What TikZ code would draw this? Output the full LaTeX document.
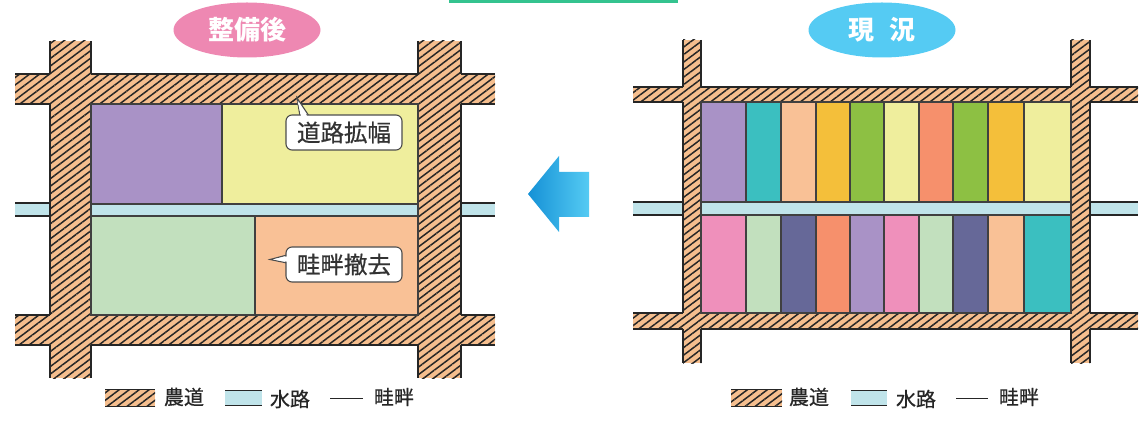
\documentclass[tikz,border=0pt]{standalone}
\usepackage{fontspec}
\newfontfamily\jp{Noto Sans CJK JP}
\newfontfamily\jpm[FakeBold=0.6]{Noto Sans CJK JP}
\usetikzlibrary{patterns.meta,shapes.geometric}
\definecolor{roadc}{HTML}{F5BE8E}
\definecolor{waterc}{HTML}{C0E4EA}
\definecolor{cpurple}{HTML}{A992C6}
\definecolor{cteal}{HTML}{3BBFC0}
\definecolor{cpeach}{HTML}{F9C196}
\definecolor{cgold}{HTML}{F4BF3A}
\definecolor{cgreen}{HTML}{8DC043}
\definecolor{cyellow}{HTML}{EFEE9D}
\definecolor{csalmon}{HTML}{F6906C}
\definecolor{cpink}{HTML}{EF90BB}
\definecolor{clgreen}{HTML}{C2E0BE}
\definecolor{cnavy}{HTML}{666898}
\definecolor{titlepink}{HTML}{EE88B2}
\definecolor{titleblue}{HTML}{55CBF3}
\definecolor{arrowdark}{HTML}{1591D6}
\definecolor{topgreen}{HTML}{34C38F}
\tikzset{
  roadfill/.style={fill=roadc, postaction={pattern={Lines[angle=37,distance=6pt,line width=1.5pt]}, pattern color=black!85}},
  edge/.style={line width=1.3pt, draw=black!85},
  field/.style={draw=black!75, line width=1.2pt},
  waterbar/.style={fill=waterc},
  calloutbox/.style={draw=black!70, fill=white, line width=1.1pt, rounded corners=6pt, minimum width=116pt, minimum height=35pt, inner sep=0pt, font=\jpm\fontsize{23.5}{23.5}\selectfont, text=black!80},
  tail/.style={draw=black!70, fill=white, line width=1.1pt, line join=miter},
  title/.style={ellipse, minimum width=147pt, minimum height=55pt, inner sep=0pt, text=white, font=\jp\bfseries\fontsize{26}{26}\selectfont},
  legtext/.style={font=\jpm\fontsize{20}{20}\selectfont, text=black!85, inner sep=0pt},
}
\begin{document}
\begin{tikzpicture}[x=1pt,y=-1pt]
\useasboundingbox (0,0) rectangle (1145,427);
% top green line
\fill[topgreen] (449,0) rectangle (678,3);

% ================= LEFT (after) =================
% water channel
\fill[waterbar] (15,203) rectangle (495,216);
\draw[edge] (15,203) -- (495,203) (15,216) -- (495,216);
% roads
\path[roadfill] (15,74) rectangle (495,104);
\path[roadfill] (15,315) rectangle (495,345);
\path[roadfill] (50,41) rectangle (91,378);
\path[roadfill] (418,41) rectangle (461,378);
\draw[edge] (15,74) -- (50,74) (91,74) -- (418,74) (461,74) -- (495,74);
\draw[edge] (15,104) -- (50,104) (461,104) -- (495,104);
\draw[edge] (15,315) -- (50,315) (461,315) -- (495,315);
\draw[edge] (15,345) -- (50,345) (91,345) -- (418,345) (461,345) -- (495,345);
\draw[edge] (50,41) -- (50,74) (50,104) -- (50,315) (50,345) -- (50,378);
\draw[edge] (461,41) -- (461,74) (461,104) -- (461,315) (461,345) -- (461,378);
\draw[edge] (91,41) -- (91,74) (91,345) -- (91,378);
\draw[edge] (418,41) -- (418,74) (418,345) -- (418,378);
% fields
\filldraw[field, fill=cpurple] (91,104) rectangle (222,204);
\filldraw[field, fill=cyellow] (222,104) rectangle (418,204);
\filldraw[field, fill=waterc] (91,204) rectangle (418,216);
\filldraw[field, fill=clgreen] (91,216) rectangle (255,315);
\filldraw[field, fill=cpeach] (255,216) rectangle (418,315);
% callouts
\draw[tail] (300,116) -- (297,98) -- (309,116);
\node[calloutbox] (c1) at (344,132.5) {道路拡幅};
\fill[white] (301.2,117) -- (297.6,101) -- (307.6,117) -- cycle;
\draw[tail] (287,255) -- (270,259.5) -- (287,263);
\node[calloutbox] (c2) at (344,264.5) {畦畔撤去};
\fill[white] (288,256.2) -- (273,259.5) -- (288,261.8) -- cycle;
% title
\node[title, fill=titlepink] (t1) at (247,30) {整備後};

% ================= ARROW =================
\shade[left color=arrowdark, right color=titleblue]
  (528,194) -- (559,156) -- (559,172) -- (589,172) -- (589,217) -- (559,217) -- (559,232) -- cycle;

% ================= RIGHT (current) =================
\fill[waterbar] (633,202) rectangle (1138,215);
\draw[edge] (633,202) -- (1138,202) (633,215) -- (1138,215);
\path[roadfill] (633,87) rectangle (1138,102);
\path[roadfill] (633,313) rectangle (1138,329);
\path[roadfill] (683,40) rectangle (701,363);
\path[roadfill] (1071,40) rectangle (1090,363);
\draw[edge] (633,87) -- (683,87) (701,87) -- (1071,87) (1090,87) -- (1138,87);
\draw[edge] (633,102) -- (683,102) (1090,102) -- (1138,102);
\draw[edge] (633,313) -- (683,313) (1090,313) -- (1138,313);
\draw[edge] (633,329) -- (683,329) (701,329) -- (1071,329) (1090,329) -- (1138,329);
\draw[edge] (683,40) -- (683,87) (683,102) -- (683,313) (683,329) -- (683,363);
\draw[edge] (1090,40) -- (1090,87) (1090,102) -- (1090,313) (1090,329) -- (1090,363);
\draw[edge] (701,40) -- (701,87) (701,329) -- (701,363);
\draw[edge] (1071,40) -- (1071,87) (1071,329) -- (1071,363);
% fields top row
\filldraw[field, fill=cpurple] (701,102) rectangle (746,202);
\filldraw[field, fill=cteal]   (746,102) rectangle (781,202);
\filldraw[field, fill=cpeach]  (781,102) rectangle (816,202);
\filldraw[field, fill=cgold]   (816,102) rectangle (850,202);
\filldraw[field, fill=cgreen]  (850,102) rectangle (884,202);
\filldraw[field, fill=cyellow] (884,102) rectangle (919,202);
\filldraw[field, fill=csalmon] (919,102) rectangle (953,202);
\filldraw[field, fill=cgreen]  (953,102) rectangle (988,202);
\filldraw[field, fill=cgold]   (988,102) rectangle (1024,202);
\filldraw[field, fill=cyellow] (1024,102) rectangle (1071,202);
\filldraw[field, fill=waterc]  (701,202) rectangle (1071,215);
% bottom row
\filldraw[field, fill=cpink]   (701,215) rectangle (746,313);
\filldraw[field, fill=clgreen] (746,215) rectangle (781,313);
\filldraw[field, fill=cnavy]   (781,215) rectangle (816,313);
\filldraw[field, fill=csalmon] (816,215) rectangle (850,313);
\filldraw[field, fill=cpurple] (850,215) rectangle (884,313);
\filldraw[field, fill=cpink]   (884,215) rectangle (919,313);
\filldraw[field, fill=clgreen] (919,215) rectangle (953,313);
\filldraw[field, fill=cnavy]   (953,215) rectangle (988,313);
\filldraw[field, fill=cpeach]  (988,215) rectangle (1024,313);
\filldraw[field, fill=cteal]   (1024,215) rectangle (1071,313);
% title
\node[title, fill=titleblue] (t2) at (882,30) {現\hspace{0.6em}況};

% ================= LEGENDS =================
\path[roadfill] (105,389) rectangle (155,406);
\draw[edge, line width=1pt] (105,389) -- (155,389) (105,406) -- (155,406);
\node[legtext] (l1a) at (184,397) {農道};
\fill[waterc] (225,390) rectangle (262,405);
\draw[edge, line width=1pt] (225,390) -- (262,390) (225,405) -- (262,405);
\node[legtext] (l1b) at (290,399) {水路};
\draw[black!85, line width=1pt] (330,398) -- (363,398);
\node[legtext] (l1c) at (394,397) {畦畔};

\path[roadfill] (731,389) rectangle (782,406);
\draw[edge, line width=1pt] (731,389) -- (782,389) (731,406) -- (782,406);
\node[legtext] (l2a) at (809,397) {農道};
\fill[waterc] (851,390) rectangle (887,405);
\draw[edge, line width=1pt] (851,390) -- (887,390) (851,405) -- (887,405);
\node[legtext] (l2b) at (916,399) {水路};
\draw[black!85, line width=1pt] (956,398) -- (988,398);
\node[legtext] (l2c) at (1019,397) {畦畔};
\end{tikzpicture}
\end{document}
